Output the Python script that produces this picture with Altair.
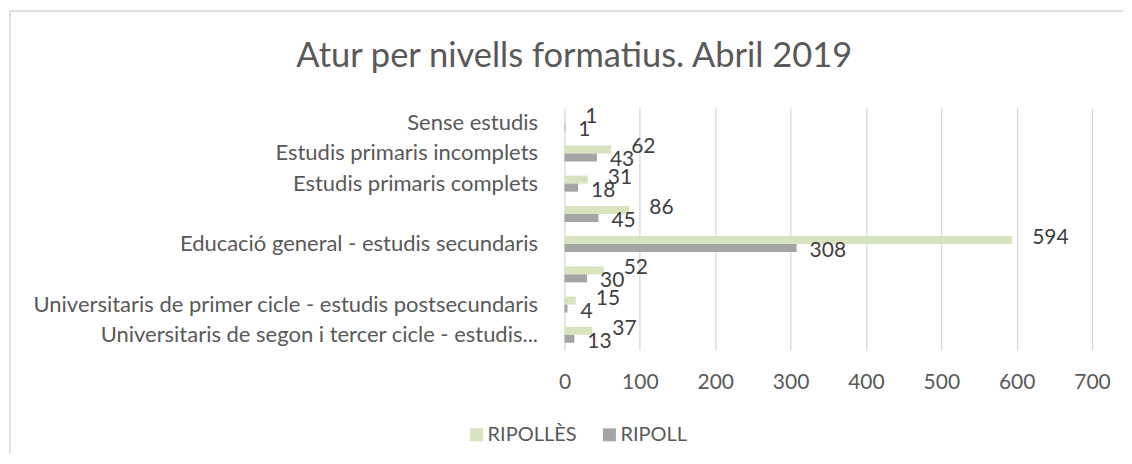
import altair as alt
import pandas as pd

title_text = "Atur per nivells formatius. Abril 2019"

categories = [
    "Sense estudis",
    "Estudis primaris incomplets",
    "Estudis primaris complets",
    "Programes de formació professional",
    "Educació general - estudis secundaris",
    "Tècnics-professionals superiors",
    "Universitaris de primer cicle - estudis postsecundaris",
    "Universitaris de segon i tercer cicle - estudis...",
]
# categories whose axis label is not shown in the reference
hidden_labels = ["Programes de formació professional", "Tècnics-professionals superiors"]

series = ["RIPOLLÈS", "RIPOLL"]
ripolles = [1, 62, 31, 86, 594, 52, 15, 37]
ripoll = [1, 43, 18, 45, 308, 30, 4, 13]
colors = ["#D7E4BD", "#A5A5A5"]
x_ticks = [0, 100, 200, 300, 400, 500, 600, 700]

rows = []
for c, a, b in zip(categories, ripolles, ripoll):
    rows.append({"nivell": c, "serie": series[0], "valor": a})
    rows.append({"nivell": c, "serie": series[1], "valor": b})
df = pd.DataFrame(rows)

FONT = "Lato"
TXT = "#595959"

hidden_js = "[" + ",".join("'" + h + "'" for h in hidden_labels) + "]"

base = alt.Chart(df).encode(
    y=alt.Y(
        "nivell:N",
        sort=categories,
        scale=alt.Scale(paddingInner=0.47, paddingOuter=0.235),
        axis=alt.Axis(
            title=None,
            labelExpr="indexof(" + hidden_js + ", datum.value) >= 0 ? '' : datum.value",
            labelFontSize=22,
            labelFont=FONT,
            labelColor=TXT,
            labelPadding=27,
            labelLimit=700,
            domain=False,
            ticks=False,
            grid=False,
        ),
    ),
    yOffset=alt.YOffset("serie:N", sort=series),
)

bars = base.mark_bar().encode(
    x=alt.X(
        "valor:Q",
        scale=alt.Scale(domain=[0, 700], nice=False),
        axis=alt.Axis(
            values=x_ticks,
            title=None,
            grid=True,
            gridColor="#D9D9D9",
            gridWidth=1.3,
            domain=False,
            ticks=False,
            labelFlush=False,
            labelFontSize=21,
            labelFont=FONT,
            labelColor=TXT,
            labelPadding=22,
        ),
    ),
    color=alt.Color(
        "serie:N",
        scale=alt.Scale(domain=series, range=colors),
        legend=alt.Legend(
            orient="none",
            legendX=-98,
            legendY=317,
            direction="horizontal",
            title=None,
            symbolType="square",
            symbolSize=169,
            symbolStrokeWidth=0,
            labelFontSize=20,
            labelFont=FONT,
            labelColor=TXT,
            labelOffset=1,
            columnPadding=22,
            padding=0,
        ),
    ),
)

label_style = dict(align="left", baseline="middle", fontSize=21, font=FONT, color="#404040")

labels_green = (
    base.transform_filter(alt.datum.serie == series[0])
    .mark_text(dx=20, dy=-2, **label_style)
    .encode(x=alt.X("valor:Q"), text=alt.Text("valor:Q"))
)
labels_gray = (
    base.transform_filter(alt.datum.serie == series[1])
    .mark_text(dx=13, dy=3, **label_style)
    .encode(x=alt.X("valor:Q"), text=alt.Text("valor:Q"))
)

one = pd.DataFrame({"t": [title_text]})
title_layer = alt.Chart(one).mark_text(
    align="center", baseline="alphabetic", fontSize=34.5, font=FONT, color=TXT
).encode(text="t:N", x=alt.value(9.75), y=alt.value(-41))

border_left = alt.Chart(one).mark_rule(color="#D9D9D9", strokeWidth=1.5).encode(
    x=alt.value(-555), y=alt.value(-97.25), y2=alt.value(346)
)
border_top = alt.Chart(one).mark_rule(color="#D9D9D9", strokeWidth=1.5).encode(
    x=alt.value(-555.75), x2=alt.value(559), y=alt.value(-97.25)
)

chart = (
    alt.layer(border_left, border_top, bars, labels_green, labels_gray, title_layer)
    .properties(width=528, height=242, padding={"left": 0, "top": 2, "right": 0, "bottom": 0})
    .configure_view(stroke=None)
)

chart.save("out.html", embed_options={"renderer": "svg", "actions": False})
